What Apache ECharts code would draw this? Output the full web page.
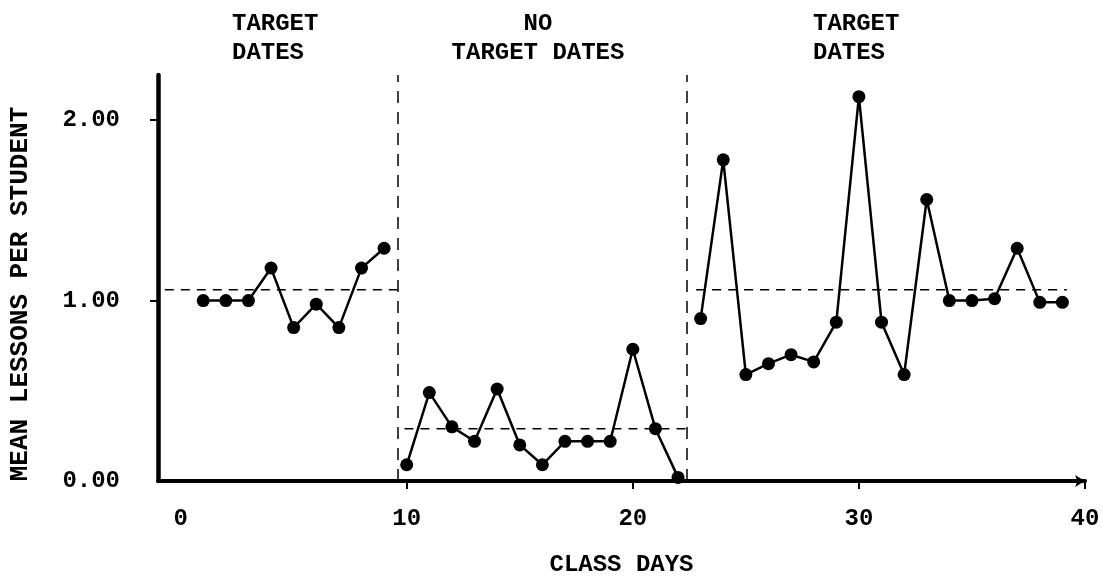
<!DOCTYPE html>
<html>
<head>
<meta charset="utf-8">
<script src="https://cdn.jsdelivr.net/npm/echarts@6/dist/echarts.min.js"></script>
<style>
  html, body { margin: 0; padding: 0; background: #fff; }
  #chart { width: 1103px; height: 576px; }
</style>
</head>
<body>
<div id="chart"></div>
<script>
// values
const phase1Days = [1, 2, 3, 4, 5, 6, 7, 8, 9];
const phase1Values = [1.00, 1.00, 1.00, 1.18, 0.85, 0.98, 0.85, 1.18, 1.29];
const phase2Days = [10, 11, 12, 13, 14, 15, 16, 17, 18, 19, 20, 21, 22];
const phase2Values = [0.09, 0.49, 0.30, 0.22, 0.51, 0.20, 0.09, 0.22, 0.22, 0.22, 0.73, 0.29, 0.02];
const phase3Days = [23, 24, 25, 26, 27, 28, 29, 30, 31, 32, 33, 34, 35, 36, 37, 38, 39];
const phase3Values = [0.90, 1.78, 0.59, 0.65, 0.70, 0.66, 0.88, 2.13, 0.88, 0.59, 1.56, 1.00, 1.00, 1.01, 1.29, 0.99, 0.99];
// drawn phase means and the day range each dashed mean line covers
const phaseMeans = [1.06, 0.29, 1.06];
const phaseMeanRanges = [[-0.7, 9.6], [9.9, 22.5], [22.8, 39.2]];
const phaseBreaks = [9.6, 22.4];
const xTickLabels = [0, 10, 20, 30, 40];
const yTickLabels = [0, 1, 2];

const FONT = 'Liberation Mono';
const INK = '#000';

function pairs(xs, ys) {
    return xs.map((x, i) => [x, ys[i]]);
}

function phaseSeries(xs, ys) {
    return {
        type: 'line',
        data: pairs(xs, ys),
        symbol: 'circle',
        symbolSize: 13,
        itemStyle: { color: INK },
        lineStyle: { color: INK, width: 2.5 },
        z: 5
    };
}

function meanSeries(i) {
    const m = phaseMeans[i];
    const r = phaseMeanRanges[i];
    return {
        type: 'line',
        data: [[r[0], m], [r[1], m]],
        symbol: 'none',
        lineStyle: { color: INK, width: 1.5, type: [9, 7] },
        z: 3
    };
}

const chart = echarts.init(document.getElementById('chart'));
const headStyle = { fontFamily: FONT, fontSize: 24, fontWeight: 'bold', color: INK, lineHeight: 29 };

chart.setOption({
    animation: false,
    title: [
        { text: 'TARGET\nDATES', left: 227, top: 4, textStyle: headStyle },
        { text: 'NO\nTARGET DATES', left: 533, top: 4, textAlign: 'center', textStyle: Object.assign({}, headStyle, { align: 'center' }) },
        { text: 'TARGET\nDATES', left: 808, top: 4, textStyle: headStyle }
    ],
    grid: { left: 158, right: 18, top: 75, bottom: 95, outerBoundsMode: 'none' },
    xAxis: {
        type: 'value',
        min: -1,
        max: 40,
        name: 'CLASS DAYS',
        nameLocation: 'middle',
        nameGap: 72,
        nameTextStyle: { fontFamily: FONT, fontSize: 24, fontWeight: 'bold', color: INK },
        axisLine: {
            lineStyle: { color: INK, width: 4 },
            symbol: ['none', 'arrow'],
            symbolSize: [9, 10]
        },
        axisTick: { customValues: xTickLabels.slice(1), length: 8, lineStyle: { color: INK, width: 2 } },
        axisLabel: {
            customValues: xTickLabels,
            margin: 26,
            fontFamily: FONT, fontSize: 24, fontWeight: 'bold', color: INK
        },
        splitLine: { show: false }
    },
    yAxis: {
        type: 'value',
        min: 0,
        max: 2.25,
        name: 'MEAN LESSONS PER STUDENT',
        nameLocation: 'middle',
        nameRotate: 90,
        nameGap: 125,
        nameTextStyle: { fontFamily: FONT, fontSize: 26, fontWeight: 'bold', color: INK, padding: [0, 32, 0, 0] },
        axisLine: { show: true, onZero: false, lineStyle: { color: INK, width: 4.5 } },
        axisTick: { show: true, customValues: yTickLabels.slice(1), length: 8, lineStyle: { color: INK, width: 2 } },
        axisLabel: {
            customValues: yTickLabels,
            margin: 38,
            formatter: v => v.toFixed(2),
            fontFamily: FONT, fontSize: 24, fontWeight: 'bold', color: INK
        },
        splitLine: { show: false }
    },
    series: [
        Object.assign(phaseSeries(phase1Days, phase1Values), {
            markLine: {
                silent: true,
                symbol: 'none',
                label: { show: false },
                lineStyle: { color: INK, width: 1.5, type: [12, 9] },
                data: phaseBreaks.map(x => ({ xAxis: x }))
            }
        }),
        phaseSeries(phase2Days, phase2Values),
        phaseSeries(phase3Days, phase3Values),
        meanSeries(0),
        meanSeries(1),
        meanSeries(2)
    ]
});
</script>
</body>
</html>
